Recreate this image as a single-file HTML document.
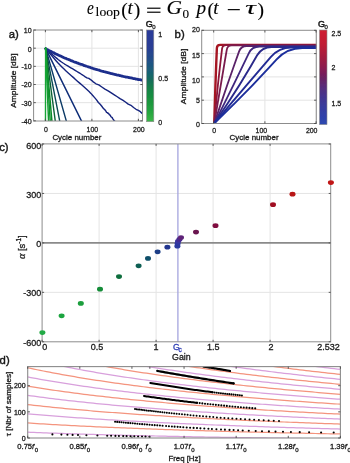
<!DOCTYPE html>
<html><head><meta charset="utf-8"><style>
html,body{margin:0;padding:0;background:#fff;width:350px;height:463px;overflow:hidden}
svg{display:block}
</style></head><body>
<svg width="350" height="463" viewBox="0 0 350 463">
<defs><filter id="soft" x="0" y="0" width="350" height="463" filterUnits="userSpaceOnUse"><feGaussianBlur stdDeviation="0.45"/></filter></defs>
<rect width="350" height="463" fill="#fff"/>
<g filter="url(#soft)">
<rect width="350" height="463" fill="#fff"/>
<text x="87.0" y="14.3" font-size="18.5" font-family="Liberation Serif, serif" font-style="italic" fill="#000" stroke="#000" stroke-width="0.12" textLength="6.8" lengthAdjust="spacingAndGlyphs">e</text>
<text x="95.6" y="16.0" font-size="12.6" font-family="Liberation Serif, serif"  fill="#000" stroke="#000" stroke-width="0.12" textLength="24.3" lengthAdjust="spacingAndGlyphs">loop</text>
<text x="121.2" y="15.6" font-size="19.5" font-family="Liberation Serif, serif"  fill="#000" stroke="#000" stroke-width="0.12">(</text>
<text x="127.6" y="14.3" font-size="18.5" font-family="Liberation Serif, serif" font-style="italic" fill="#000" stroke="#000" stroke-width="0.12" textLength="5.3" lengthAdjust="spacingAndGlyphs">t</text>
<text x="133.8" y="15.6" font-size="19.5" font-family="Liberation Serif, serif"  fill="#000" stroke="#000" stroke-width="0.12">)</text>
<rect x="147.1" y="7.6" width="13.4" height="1.25" fill="#111"/><rect x="147.1" y="11.6" width="13.4" height="1.25" fill="#111"/>
<text x="166.4" y="14.3" font-size="18.5" font-family="Liberation Serif, serif" font-style="italic" fill="#000" stroke="#000" stroke-width="0.12" textLength="15.5" lengthAdjust="spacingAndGlyphs">G</text>
<text x="182.6" y="17.6" font-size="13.0" font-family="Liberation Serif, serif"  fill="#000" stroke="#000" stroke-width="0.12" textLength="6.6" lengthAdjust="spacingAndGlyphs">0</text>
<text x="196.4" y="14.3" font-size="18.5" font-family="Liberation Serif, serif" font-style="italic" fill="#000" stroke="#000" stroke-width="0.12" textLength="9.6" lengthAdjust="spacingAndGlyphs">p</text>
<text x="207.4" y="15.6" font-size="19.5" font-family="Liberation Serif, serif"  fill="#000" stroke="#000" stroke-width="0.12">(</text>
<text x="213.3" y="14.3" font-size="18.5" font-family="Liberation Serif, serif" font-style="italic" fill="#000" stroke="#000" stroke-width="0.12" textLength="5.3" lengthAdjust="spacingAndGlyphs">t</text>
<rect x="227.8" y="9.0" width="12.0" height="1.25" fill="#111"/>
<text x="245.2" y="14.3" font-size="18.5" font-family="Liberation Serif, serif" font-style="italic" fill="#000" stroke="#000" stroke-width="0.12" textLength="10.6" lengthAdjust="spacingAndGlyphs">τ</text>
<text x="257.6" y="15.6" font-size="19.5" font-family="Liberation Serif, serif"  fill="#000" stroke="#000" stroke-width="0.12">)</text>
<rect x="33.6" y="30.0" width="108.9" height="91.0" fill="#fff"/>
<line x1="45.40" y1="30.00" x2="45.40" y2="121.00" stroke="#e4e4e4" stroke-width="1" />
<line x1="91.90" y1="30.00" x2="91.90" y2="121.00" stroke="#e4e4e4" stroke-width="1" />
<line x1="138.40" y1="30.00" x2="138.40" y2="121.00" stroke="#e4e4e4" stroke-width="1" />
<line x1="33.60" y1="48.20" x2="142.50" y2="48.20" stroke="#e4e4e4" stroke-width="1" />
<line x1="33.60" y1="66.35" x2="142.50" y2="66.35" stroke="#e4e4e4" stroke-width="1" />
<line x1="33.60" y1="84.50" x2="142.50" y2="84.50" stroke="#e4e4e4" stroke-width="1" />
<line x1="33.60" y1="102.65" x2="142.50" y2="102.65" stroke="#e4e4e4" stroke-width="1" />
<g clip-path="url(#clipa)">
<path d="M45.60,48.30 L82.00,122.00" fill="none" stroke="#112d78" stroke-width="1.5" stroke-linejoin="round" stroke-linecap="round" />
<path d="M45.60,48.30 L46.70,49.61 L48.16,51.38 L49.90,53.48 L51.83,55.81 L53.89,58.24 L55.99,60.68 L58.05,63.00 L60.00,65.10 L61.89,67.01 L63.80,68.86 L65.74,70.66 L67.69,72.42 L69.65,74.17 L71.61,75.90 L73.56,77.64 L75.50,79.40 L77.44,81.15 L79.40,82.87 L81.36,84.57 L83.31,86.28 L85.25,87.99 L87.17,89.75 L89.06,91.54 L90.90,93.40 L92.75,95.50 L94.64,97.62 L96.53,99.93 L98.38,102.52 L100.15,104.28 L101.80,106.25 L103.30,108.38 L104.60,109.44 L105.68,110.71 L106.55,112.32 L107.25,112.58 L107.85,113.18 L108.38,113.14 L108.88,114.02 L109.41,114.72 L110.00,114.82 L110.67,116.20 L111.38,117.09 L112.09,117.41 L112.79,118.88 L113.44,119.57 L114.03,120.55 L114.53,120.87 L114.90,121.50" fill="none" stroke="#14247e" stroke-width="1.4" stroke-linejoin="round" stroke-linecap="round" />
<path d="M45.60,48.30 L46.45,49.06 L47.54,50.06 L48.83,51.25 L50.27,52.57 L51.83,53.99 L53.47,55.46 L55.15,56.94 L56.82,58.36 L58.45,59.70 L60.00,60.90 L61.51,61.99 L63.03,63.03 L64.57,64.03 L66.13,64.99 L67.69,65.94 L69.25,66.87 L70.82,67.79 L72.39,68.71 L73.95,69.65 L75.50,70.60 L76.98,71.52 L78.37,72.39 L79.70,73.21 L81.01,74.02 L82.35,74.86 L83.76,75.73 L85.28,76.86 L86.94,77.93 L88.81,78.45 L90.90,79.80 L93.28,81.86 L95.93,83.78 L98.80,84.94 L101.82,87.03 L104.94,89.12 L108.11,90.87 L111.25,92.90 L114.32,94.80 L117.26,96.72 L120.00,98.69 L122.68,100.15 L125.43,102.01 L128.20,104.17 L130.93,105.29 L133.57,107.51 L136.06,109.30 L138.35,110.44 L140.39,111.70 L142.13,113.37 L143.50,114.00" fill="none" stroke="#14247e" stroke-width="1.4" stroke-linejoin="round" stroke-linecap="round" />
<path d="M45.60,48.64 L46.57,49.23 L47.54,49.70 L48.52,50.26 L49.49,50.77 L50.46,51.13 L51.43,51.61 L52.40,52.29 L53.37,52.63 L54.35,53.10 L55.32,53.75 L56.29,54.09 L57.26,54.63 L58.23,55.00 L59.21,55.49 L60.18,55.82 L61.15,56.37 L62.12,56.86 L63.09,57.21 L64.07,57.69 L65.04,58.09 L66.01,58.36 L66.98,58.94 L67.95,59.30 L68.92,59.64 L69.90,59.97 L70.87,60.56 L71.84,60.86 L72.81,61.30 L73.78,61.72 L74.76,62.06 L75.73,62.48 L76.70,62.72 L77.67,63.18 L78.64,63.46 L79.61,63.93 L80.59,64.27 L81.56,64.43 L82.53,64.79 L83.50,65.15 L84.47,65.66 L85.45,65.87 L86.42,66.24 L87.39,66.49 L88.36,66.86 L89.33,67.16 L90.31,67.46 L91.28,67.83 L92.25,68.14 L93.22,68.52 L94.19,68.77 L95.16,69.13 L96.14,69.41 L97.11,69.73 L98.08,69.94 L99.05,70.11 L100.02,70.56 L101.00,70.86 L101.97,71.12 L102.94,71.32 L103.91,71.62 L104.88,71.77 L105.85,72.18 L106.83,72.38 L107.80,72.57 L108.77,72.78 L109.74,73.22 L110.71,73.50 L111.69,73.53 L112.66,73.95 L113.63,74.10 L114.60,74.28 L115.57,74.55 L116.55,74.90 L117.52,75.15 L118.49,75.18 L119.46,75.55 L120.43,75.64 L121.40,76.02 L122.38,76.15 L123.35,76.49 L124.32,76.73 L125.29,76.83 L126.26,77.16 L127.24,77.20 L128.21,77.35 L129.18,77.68 L130.15,77.75 L131.12,77.98 L132.09,78.23 L133.07,78.48 L134.04,78.56 L135.01,78.72 L135.98,79.11 L136.95,79.16 L137.93,79.50 L138.90,79.67 L139.87,79.72 L140.84,79.92 L141.81,80.11 L142.78,80.32" fill="none" stroke="#1e2d8c" stroke-width="2.8" stroke-linejoin="round" stroke-linecap="round" />
<path d="M45.60,48.30 L66.60,122.00" fill="none" stroke="#0b3a66" stroke-width="1.4" stroke-linejoin="round" stroke-linecap="round" />
<path d="M45.60,48.30 L59.90,122.00" fill="none" stroke="#0a4c52" stroke-width="1.4" stroke-linejoin="round" stroke-linecap="round" />
<path d="M45.60,48.30 L55.40,122.00" fill="none" stroke="#0b6034" stroke-width="1.4" stroke-linejoin="round" stroke-linecap="round" />
<path d="M45.60,48.30 L52.00,122.00" fill="none" stroke="#0e8a2b" stroke-width="1.5" stroke-linejoin="round" stroke-linecap="round" />
<path d="M45.60,48.30 L50.30,122.00" fill="none" stroke="#10932d" stroke-width="1.5" stroke-linejoin="round" stroke-linecap="round" />
<path d="M45.60,48.30 L48.60,122.00" fill="none" stroke="#139c31" stroke-width="1.5" stroke-linejoin="round" stroke-linecap="round" />
<path d="M45.60,48.30 L45.50,122.00" fill="none" stroke="#16a636" stroke-width="1.4" stroke-linejoin="round" stroke-linecap="round" />
</g>
<defs><clipPath id="clipa"><rect x="33.6" y="30.0" width="108.9" height="91.0"/></clipPath><clipPath id="clipb"><rect x="201.7" y="30.3" width="114.6" height="93.2"/></clipPath><clipPath id="clipd"><rect x="27.7" y="366.6" width="312.7" height="71.4"/></clipPath></defs>
<rect x="33.6" y="30.0" width="108.9" height="91.0" fill="none" stroke="#8c8c8c" stroke-width="1"/>
<line x1="45.40" y1="121.00" x2="45.40" y2="118.80" stroke="#4a4a4a" stroke-width="0.9" />
<line x1="45.40" y1="30.00" x2="45.40" y2="32.20" stroke="#4a4a4a" stroke-width="0.9" />
<line x1="91.90" y1="121.00" x2="91.90" y2="118.80" stroke="#4a4a4a" stroke-width="0.9" />
<line x1="91.90" y1="30.00" x2="91.90" y2="32.20" stroke="#4a4a4a" stroke-width="0.9" />
<line x1="138.40" y1="121.00" x2="138.40" y2="118.80" stroke="#4a4a4a" stroke-width="0.9" />
<line x1="138.40" y1="30.00" x2="138.40" y2="32.20" stroke="#4a4a4a" stroke-width="0.9" />
<line x1="33.60" y1="30.05" x2="35.80" y2="30.05" stroke="#4a4a4a" stroke-width="0.9" />
<line x1="142.50" y1="30.05" x2="140.30" y2="30.05" stroke="#4a4a4a" stroke-width="0.9" />
<line x1="33.60" y1="48.20" x2="35.80" y2="48.20" stroke="#4a4a4a" stroke-width="0.9" />
<line x1="142.50" y1="48.20" x2="140.30" y2="48.20" stroke="#4a4a4a" stroke-width="0.9" />
<line x1="33.60" y1="66.35" x2="35.80" y2="66.35" stroke="#4a4a4a" stroke-width="0.9" />
<line x1="142.50" y1="66.35" x2="140.30" y2="66.35" stroke="#4a4a4a" stroke-width="0.9" />
<line x1="33.60" y1="84.50" x2="35.80" y2="84.50" stroke="#4a4a4a" stroke-width="0.9" />
<line x1="142.50" y1="84.50" x2="140.30" y2="84.50" stroke="#4a4a4a" stroke-width="0.9" />
<line x1="33.60" y1="102.65" x2="35.80" y2="102.65" stroke="#4a4a4a" stroke-width="0.9" />
<line x1="142.50" y1="102.65" x2="140.30" y2="102.65" stroke="#4a4a4a" stroke-width="0.9" />
<line x1="33.60" y1="120.80" x2="35.80" y2="120.80" stroke="#4a4a4a" stroke-width="0.9" />
<line x1="142.50" y1="120.80" x2="140.30" y2="120.80" stroke="#4a4a4a" stroke-width="0.9" />
<text x="31.60" y="32.55" font-size="8.0" text-anchor="end" fill="#1a1a1a" stroke="#1a1a1a" stroke-width="0.3" font-family="Liberation Sans, sans-serif" textLength="7.83" lengthAdjust="spacingAndGlyphs" >10</text>
<text x="31.60" y="51.80" font-size="8.0" text-anchor="end" fill="#1a1a1a" stroke="#1a1a1a" stroke-width="0.3" font-family="Liberation Sans, sans-serif" textLength="3.92" lengthAdjust="spacingAndGlyphs" >0</text>
<text x="31.60" y="69.15" font-size="8.0" text-anchor="end" fill="#1a1a1a" stroke="#1a1a1a" stroke-width="0.3" font-family="Liberation Sans, sans-serif" textLength="10.18" lengthAdjust="spacingAndGlyphs" >-10</text>
<text x="31.60" y="87.30" font-size="8.0" text-anchor="end" fill="#1a1a1a" stroke="#1a1a1a" stroke-width="0.3" font-family="Liberation Sans, sans-serif" textLength="10.18" lengthAdjust="spacingAndGlyphs" >-20</text>
<text x="31.60" y="105.65" font-size="8.0" text-anchor="end" fill="#1a1a1a" stroke="#1a1a1a" stroke-width="0.3" font-family="Liberation Sans, sans-serif" textLength="10.18" lengthAdjust="spacingAndGlyphs" >-30</text>
<text x="31.60" y="124.40" font-size="8.0" text-anchor="end" fill="#1a1a1a" stroke="#1a1a1a" stroke-width="0.3" font-family="Liberation Sans, sans-serif" textLength="10.18" lengthAdjust="spacingAndGlyphs" >-40</text>
<text x="45.90" y="132.30" font-size="8.0" text-anchor="middle" fill="#1a1a1a" stroke="#1a1a1a" stroke-width="0.3" font-family="Liberation Sans, sans-serif" textLength="3.87" lengthAdjust="spacingAndGlyphs" >0</text>
<text x="92.40" y="132.30" font-size="8.0" text-anchor="middle" fill="#1a1a1a" stroke="#1a1a1a" stroke-width="0.3" font-family="Liberation Sans, sans-serif" textLength="11.61" lengthAdjust="spacingAndGlyphs" >100</text>
<text x="138.90" y="132.30" font-size="8.0" text-anchor="middle" fill="#1a1a1a" stroke="#1a1a1a" stroke-width="0.3" font-family="Liberation Sans, sans-serif" textLength="11.61" lengthAdjust="spacingAndGlyphs" >200</text>
<text x="52.40" y="140.20" font-size="7.7" text-anchor="start" fill="#1a1a1a" stroke="#1a1a1a" stroke-width="0.3" font-family="Liberation Sans, sans-serif" textLength="49" lengthAdjust="spacingAndGlyphs" >Cycle number</text>
<text transform="translate(16.4,80.6) rotate(-90)" font-size="7.9" textLength="54.5" lengthAdjust="spacingAndGlyphs" text-anchor="middle" fill="#1a1a1a" stroke="#1a1a1a" stroke-width="0.3" font-family="Liberation Sans, sans-serif">Amplitude [dB]</text>
<text x="8.70" y="38.10" font-size="11.3" text-anchor="start" fill="#1a1a1a" stroke="#1a1a1a" stroke-width="0.42" font-family="Liberation Sans, sans-serif" >a)</text>
<defs><linearGradient id="cba" x1="0" y1="0" x2="0" y2="1"><stop offset="0" stop-color="#2c3a9a"/><stop offset="0.2" stop-color="#293f94"/><stop offset="0.35" stop-color="#205286"/><stop offset="0.45" stop-color="#1a6076"/><stop offset="0.55" stop-color="#146e5a"/><stop offset="0.65" stop-color="#138446"/><stop offset="0.78" stop-color="#1c963e"/><stop offset="0.9" stop-color="#26a640"/><stop offset="1" stop-color="#3cb648"/></linearGradient><linearGradient id="cbb" x1="0" y1="0" x2="0" y2="1"><stop offset="0" stop-color="#d02030"/><stop offset="0.15" stop-color="#c01c34"/><stop offset="0.3" stop-color="#a01c40"/><stop offset="0.4" stop-color="#8a1c50"/><stop offset="0.5" stop-color="#6c2060"/><stop offset="0.6" stop-color="#582c7a"/><stop offset="0.7" stop-color="#44358e"/><stop offset="0.8" stop-color="#3a3c9c"/><stop offset="0.9" stop-color="#3040a8"/><stop offset="1" stop-color="#2c48b0"/></linearGradient></defs>
<rect x="146.6" y="30" width="7.2" height="91.7" fill="url(#cba)" stroke="#8c8c8c" stroke-width="0.6"/>
<text x="158.30" y="37.00" font-size="8.0" text-anchor="start" fill="#1a1a1a" stroke="#1a1a1a" stroke-width="0.3" font-family="Liberation Sans, sans-serif" textLength="3.92" lengthAdjust="spacingAndGlyphs" >1</text>
<text x="158.30" y="80.80" font-size="8.0" text-anchor="start" fill="#1a1a1a" stroke="#1a1a1a" stroke-width="0.3" font-family="Liberation Sans, sans-serif" textLength="9.79" lengthAdjust="spacingAndGlyphs" >0.5</text>
<text x="158.30" y="124.60" font-size="8.0" text-anchor="start" fill="#1a1a1a" stroke="#1a1a1a" stroke-width="0.3" font-family="Liberation Sans, sans-serif" textLength="3.92" lengthAdjust="spacingAndGlyphs" >0</text>
<text x="145.80" y="27.20" font-size="9.0" text-anchor="start" fill="#1a1a1a" stroke="#1a1a1a" stroke-width="0.5" font-family="Liberation Sans, sans-serif" >G</text>
<text x="152.30" y="28.90" font-size="6.0" text-anchor="start" fill="#1a1a1a" stroke="#1a1a1a" stroke-width="0.3" font-family="Liberation Sans, sans-serif" >0</text>
<rect x="201.7" y="30.3" width="114.60000000000002" height="93.2" fill="#fff"/>
<line x1="213.70" y1="30.30" x2="213.70" y2="123.50" stroke="#e4e4e4" stroke-width="1" />
<line x1="264.90" y1="30.30" x2="264.90" y2="123.50" stroke="#e4e4e4" stroke-width="1" />
<line x1="316.10" y1="30.30" x2="316.10" y2="123.50" stroke="#e4e4e4" stroke-width="1" />
<line x1="201.70" y1="100.20" x2="316.30" y2="100.20" stroke="#e4e4e4" stroke-width="1" />
<line x1="201.70" y1="76.90" x2="316.30" y2="76.90" stroke="#e4e4e4" stroke-width="1" />
<line x1="201.70" y1="53.60" x2="316.30" y2="53.60" stroke="#e4e4e4" stroke-width="1" />
<g clip-path="url(#clipb)">
<path d="M214.30,123.30 L214.87,103.31 Q215.42,84.10 216.19,64.90 L216.87,48.07 Q217.00,44.90 220.18,44.90 L380.00,44.90" fill="none" stroke="#a51424" stroke-width="2.4" stroke-linejoin="round"/>
<path d="M214.30,123.30 L216.11,103.36 Q217.85,84.20 220.12,65.10 L222.08,48.67 Q222.50,45.10 226.10,45.10 L380.00,45.10" fill="none" stroke="#8e183a" stroke-width="1.8" stroke-linejoin="round"/>
<path d="M214.30,123.30 L217.67,103.44 Q220.90,84.35 224.13,65.26 L226.80,49.53 Q227.50,45.40 231.69,45.40 L380.00,45.40" fill="none" stroke="#7a1c4e" stroke-width="1.8" stroke-linejoin="round"/>
<path d="M214.30,123.30 L220.94,103.59 Q227.31,84.65 233.98,65.81 L239.10,51.37 Q241.00,46.00 246.70,46.00 L380.00,46.00" fill="none" stroke="#5a2268" stroke-width="1.8" stroke-linejoin="round"/>
<path d="M214.30,123.30 L224.23,103.54 Q233.60,84.90 242.61,66.08 L248.75,53.29 Q252.00,46.50 259.53,46.50 L380.00,46.50" fill="none" stroke="#40287e" stroke-width="1.8" stroke-linejoin="round"/>
<path d="M214.30,123.30 L227.73,103.16 Q239.73,85.15 250.64,66.46 L257.13,55.35 Q262.00,47.00 271.67,47.00 L380.00,47.00" fill="none" stroke="#2c2a8a" stroke-width="1.9" stroke-linejoin="round"/>
<path d="M214.30,123.30 L230.68,103.97 Q246.42,85.40 262.29,66.94 L270.92,56.90 Q279.00,47.50 291.39,47.50 L380.00,47.50" fill="none" stroke="#222c94" stroke-width="1.9" stroke-linejoin="round"/>
<path d="M214.30,123.30 L234.90,103.11 Q252.72,85.65 269.52,67.20 L276.65,59.36 Q287.00,48.00 302.37,48.00 L380.00,48.00" fill="none" stroke="#1c2e9c" stroke-width="1.9" stroke-linejoin="round"/>
</g>
<rect x="201.7" y="30.3" width="114.60000000000002" height="93.2" fill="none" stroke="#8c8c8c" stroke-width="1"/>
<line x1="213.70" y1="123.50" x2="213.70" y2="121.30" stroke="#4a4a4a" stroke-width="0.9" />
<line x1="213.70" y1="30.30" x2="213.70" y2="32.50" stroke="#4a4a4a" stroke-width="0.9" />
<line x1="264.90" y1="123.50" x2="264.90" y2="121.30" stroke="#4a4a4a" stroke-width="0.9" />
<line x1="264.90" y1="30.30" x2="264.90" y2="32.50" stroke="#4a4a4a" stroke-width="0.9" />
<line x1="316.10" y1="123.50" x2="316.10" y2="121.30" stroke="#4a4a4a" stroke-width="0.9" />
<line x1="316.10" y1="30.30" x2="316.10" y2="32.50" stroke="#4a4a4a" stroke-width="0.9" />
<line x1="201.70" y1="123.50" x2="203.90" y2="123.50" stroke="#4a4a4a" stroke-width="0.9" />
<line x1="316.30" y1="123.50" x2="314.10" y2="123.50" stroke="#4a4a4a" stroke-width="0.9" />
<line x1="201.70" y1="100.20" x2="203.90" y2="100.20" stroke="#4a4a4a" stroke-width="0.9" />
<line x1="316.30" y1="100.20" x2="314.10" y2="100.20" stroke="#4a4a4a" stroke-width="0.9" />
<line x1="201.70" y1="76.90" x2="203.90" y2="76.90" stroke="#4a4a4a" stroke-width="0.9" />
<line x1="316.30" y1="76.90" x2="314.10" y2="76.90" stroke="#4a4a4a" stroke-width="0.9" />
<line x1="201.70" y1="53.60" x2="203.90" y2="53.60" stroke="#4a4a4a" stroke-width="0.9" />
<line x1="316.30" y1="53.60" x2="314.10" y2="53.60" stroke="#4a4a4a" stroke-width="0.9" />
<line x1="201.70" y1="30.30" x2="203.90" y2="30.30" stroke="#4a4a4a" stroke-width="0.9" />
<line x1="316.30" y1="30.30" x2="314.10" y2="30.30" stroke="#4a4a4a" stroke-width="0.9" />
<text x="199.90" y="126.80" font-size="8.0" text-anchor="end" fill="#1a1a1a" stroke="#1a1a1a" stroke-width="0.3" font-family="Liberation Sans, sans-serif" textLength="3.92" lengthAdjust="spacingAndGlyphs" >0</text>
<text x="199.90" y="103.30" font-size="8.0" text-anchor="end" fill="#1a1a1a" stroke="#1a1a1a" stroke-width="0.3" font-family="Liberation Sans, sans-serif" textLength="3.92" lengthAdjust="spacingAndGlyphs" >5</text>
<text x="199.90" y="82.90" font-size="8.0" text-anchor="end" fill="#1a1a1a" stroke="#1a1a1a" stroke-width="0.3" font-family="Liberation Sans, sans-serif" textLength="7.83" lengthAdjust="spacingAndGlyphs" >10</text>
<text x="199.90" y="57.90" font-size="8.0" text-anchor="end" fill="#1a1a1a" stroke="#1a1a1a" stroke-width="0.3" font-family="Liberation Sans, sans-serif" textLength="7.83" lengthAdjust="spacingAndGlyphs" >15</text>
<text x="199.90" y="31.60" font-size="8.0" text-anchor="end" fill="#1a1a1a" stroke="#1a1a1a" stroke-width="0.3" font-family="Liberation Sans, sans-serif" textLength="7.83" lengthAdjust="spacingAndGlyphs" >20</text>
<text x="214.10" y="132.50" font-size="8.0" text-anchor="middle" fill="#1a1a1a" stroke="#1a1a1a" stroke-width="0.3" font-family="Liberation Sans, sans-serif" textLength="3.87" lengthAdjust="spacingAndGlyphs" >0</text>
<text x="261.40" y="132.50" font-size="8.0" text-anchor="middle" fill="#1a1a1a" stroke="#1a1a1a" stroke-width="0.3" font-family="Liberation Sans, sans-serif" textLength="11.61" lengthAdjust="spacingAndGlyphs" >100</text>
<text x="311.70" y="132.50" font-size="8.0" text-anchor="middle" fill="#1a1a1a" stroke="#1a1a1a" stroke-width="0.3" font-family="Liberation Sans, sans-serif" textLength="11.61" lengthAdjust="spacingAndGlyphs" >200</text>
<text x="229.60" y="140.20" font-size="7.7" text-anchor="start" fill="#1a1a1a" stroke="#1a1a1a" stroke-width="0.3" font-family="Liberation Sans, sans-serif" textLength="49" lengthAdjust="spacingAndGlyphs" >Cycle number</text>
<text transform="translate(186.3,76.4) rotate(-90)" font-size="7.9" textLength="55.5" lengthAdjust="spacingAndGlyphs" text-anchor="middle" fill="#1a1a1a" stroke="#1a1a1a" stroke-width="0.3" font-family="Liberation Sans, sans-serif">Amplitude [dB]</text>
<text x="174.60" y="38.10" font-size="11.3" text-anchor="start" fill="#1a1a1a" stroke="#1a1a1a" stroke-width="0.42" font-family="Liberation Sans, sans-serif" >b)</text>
<rect x="319.5" y="30" width="7.5" height="94.6" fill="url(#cbb)" stroke="#8c8c8c" stroke-width="0.6"/>
<text x="331.50" y="35.90" font-size="8.0" text-anchor="start" fill="#1a1a1a" stroke="#1a1a1a" stroke-width="0.3" font-family="Liberation Sans, sans-serif" textLength="9.79" lengthAdjust="spacingAndGlyphs" >2.5</text>
<text x="331.50" y="70.40" font-size="8.0" text-anchor="start" fill="#1a1a1a" stroke="#1a1a1a" stroke-width="0.3" font-family="Liberation Sans, sans-serif" textLength="3.92" lengthAdjust="spacingAndGlyphs" >2</text>
<text x="331.50" y="106.10" font-size="8.0" text-anchor="start" fill="#1a1a1a" stroke="#1a1a1a" stroke-width="0.3" font-family="Liberation Sans, sans-serif" textLength="9.79" lengthAdjust="spacingAndGlyphs" >1.5</text>
<text x="317.90" y="27.40" font-size="9.0" text-anchor="start" fill="#1a1a1a" stroke="#1a1a1a" stroke-width="0.5" font-family="Liberation Sans, sans-serif" >G</text>
<text x="324.60" y="29.20" font-size="6.0" text-anchor="start" fill="#1a1a1a" stroke="#1a1a1a" stroke-width="0.3" font-family="Liberation Sans, sans-serif" >0</text>
<line x1="99.10" y1="143.90" x2="99.10" y2="341.80" stroke="#e4e4e4" stroke-width="1" />
<line x1="156.10" y1="143.90" x2="156.10" y2="341.80" stroke="#e4e4e4" stroke-width="1" />
<line x1="213.10" y1="143.90" x2="213.10" y2="341.80" stroke="#e4e4e4" stroke-width="1" />
<line x1="270.10" y1="143.90" x2="270.10" y2="341.80" stroke="#e4e4e4" stroke-width="1" />
<line x1="42.10" y1="193.45" x2="330.70" y2="193.45" stroke="#e4e4e4" stroke-width="1" />
<line x1="42.10" y1="292.35" x2="330.70" y2="292.35" stroke="#e4e4e4" stroke-width="1" />
<line x1="42.10" y1="242.90" x2="330.70" y2="242.90" stroke="#8a8a8a" stroke-width="1.6" />
<line x1="177.90" y1="143.90" x2="177.90" y2="341.80" stroke="#a4a4de" stroke-width="1.3" />
<rect x="42.1" y="143.9" width="288.59999999999997" height="197.9" fill="none" stroke="#8c8c8c" stroke-width="1"/>
<line x1="42.10" y1="341.80" x2="42.10" y2="339.80" stroke="#4a4a4a" stroke-width="0.9" />
<line x1="42.10" y1="143.90" x2="42.10" y2="145.90" stroke="#4a4a4a" stroke-width="0.9" />
<line x1="99.10" y1="341.80" x2="99.10" y2="339.80" stroke="#4a4a4a" stroke-width="0.9" />
<line x1="99.10" y1="143.90" x2="99.10" y2="145.90" stroke="#4a4a4a" stroke-width="0.9" />
<line x1="156.10" y1="341.80" x2="156.10" y2="339.80" stroke="#4a4a4a" stroke-width="0.9" />
<line x1="156.10" y1="143.90" x2="156.10" y2="145.90" stroke="#4a4a4a" stroke-width="0.9" />
<line x1="213.10" y1="341.80" x2="213.10" y2="339.80" stroke="#4a4a4a" stroke-width="0.9" />
<line x1="213.10" y1="143.90" x2="213.10" y2="145.90" stroke="#4a4a4a" stroke-width="0.9" />
<line x1="270.10" y1="341.80" x2="270.10" y2="339.80" stroke="#4a4a4a" stroke-width="0.9" />
<line x1="270.10" y1="143.90" x2="270.10" y2="145.90" stroke="#4a4a4a" stroke-width="0.9" />
<line x1="42.10" y1="144.00" x2="44.10" y2="144.00" stroke="#4a4a4a" stroke-width="0.9" />
<line x1="330.70" y1="144.00" x2="328.70" y2="144.00" stroke="#4a4a4a" stroke-width="0.9" />
<line x1="42.10" y1="193.45" x2="44.10" y2="193.45" stroke="#4a4a4a" stroke-width="0.9" />
<line x1="330.70" y1="193.45" x2="328.70" y2="193.45" stroke="#4a4a4a" stroke-width="0.9" />
<line x1="42.10" y1="242.90" x2="44.10" y2="242.90" stroke="#4a4a4a" stroke-width="0.9" />
<line x1="330.70" y1="242.90" x2="328.70" y2="242.90" stroke="#4a4a4a" stroke-width="0.9" />
<line x1="42.10" y1="292.35" x2="44.10" y2="292.35" stroke="#4a4a4a" stroke-width="0.9" />
<line x1="330.70" y1="292.35" x2="328.70" y2="292.35" stroke="#4a4a4a" stroke-width="0.9" />
<line x1="42.10" y1="341.80" x2="44.10" y2="341.80" stroke="#4a4a4a" stroke-width="0.9" />
<line x1="330.70" y1="341.80" x2="328.70" y2="341.80" stroke="#4a4a4a" stroke-width="0.9" />
<ellipse cx="42.4" cy="332.6" rx="3.0" ry="2.4" fill="#22aa44"/>
<ellipse cx="61.6" cy="315.8" rx="3.0" ry="2.4" fill="#1ea540"/>
<ellipse cx="80.8" cy="303.4" rx="3.0" ry="2.4" fill="#1a9e3c"/>
<ellipse cx="100.0" cy="289.2" rx="3.0" ry="2.4" fill="#128c38"/>
<ellipse cx="119.0" cy="276.6" rx="3.0" ry="2.4" fill="#0f6e3c"/>
<ellipse cx="138.6" cy="265.8" rx="3.0" ry="2.4" fill="#0f5e52"/>
<ellipse cx="148.0" cy="258.4" rx="3.0" ry="2.4" fill="#10506a"/>
<ellipse cx="157.6" cy="251.8" rx="3.0" ry="2.4" fill="#1a3d86"/>
<ellipse cx="167.4" cy="247.2" rx="3.0" ry="2.4" fill="#22368f"/>
<ellipse cx="177.4" cy="246.2" rx="3.0" ry="2.4" fill="#2a3aa0"/>
<ellipse cx="177.6" cy="243.6" rx="3.0" ry="2.4" fill="#2e38a0"/>
<ellipse cx="178.0" cy="241.3" rx="3.0" ry="2.4" fill="#3a34a0"/>
<ellipse cx="179.4" cy="239.4" rx="3.0" ry="2.4" fill="#4a2c8e"/>
<ellipse cx="181.0" cy="237.6" rx="3.0" ry="2.4" fill="#5e2478"/>
<ellipse cx="196.0" cy="232.1" rx="3.0" ry="2.4" fill="#6a1450"/>
<ellipse cx="215.5" cy="225.7" rx="3.0" ry="2.4" fill="#801040"/>
<ellipse cx="273.0" cy="204.7" rx="3.0" ry="2.4" fill="#a01020"/>
<ellipse cx="292.5" cy="194.2" rx="3.0" ry="2.4" fill="#b81414"/>
<ellipse cx="330.9" cy="182.6" rx="3.0" ry="2.4" fill="#c01212"/>
<text x="41.20" y="148.60" font-size="9.0" text-anchor="end" fill="#1a1a1a" stroke="#1a1a1a" stroke-width="0.3" font-family="Liberation Sans, sans-serif" >600</text>
<text x="41.20" y="197.80" font-size="9.0" text-anchor="end" fill="#1a1a1a" stroke="#1a1a1a" stroke-width="0.3" font-family="Liberation Sans, sans-serif" >300</text>
<text x="41.20" y="246.60" font-size="9.0" text-anchor="end" fill="#1a1a1a" stroke="#1a1a1a" stroke-width="0.3" font-family="Liberation Sans, sans-serif" >0</text>
<text x="41.20" y="296.30" font-size="9.0" text-anchor="end" fill="#1a1a1a" stroke="#1a1a1a" stroke-width="0.3" font-family="Liberation Sans, sans-serif" >-300</text>
<text x="41.20" y="345.60" font-size="9.0" text-anchor="end" fill="#1a1a1a" stroke="#1a1a1a" stroke-width="0.3" font-family="Liberation Sans, sans-serif" >-600</text>
<text x="44.80" y="350.40" font-size="9.0" text-anchor="middle" fill="#1a1a1a" stroke="#1a1a1a" stroke-width="0.3" font-family="Liberation Sans, sans-serif" >0</text>
<text x="97.10" y="350.40" font-size="9.0" text-anchor="middle" fill="#1a1a1a" stroke="#1a1a1a" stroke-width="0.3" font-family="Liberation Sans, sans-serif" >0.5</text>
<text x="156.10" y="350.40" font-size="9.0" text-anchor="middle" fill="#1a1a1a" stroke="#1a1a1a" stroke-width="0.3" font-family="Liberation Sans, sans-serif" >1</text>
<text x="213.30" y="350.40" font-size="9.0" text-anchor="middle" fill="#1a1a1a" stroke="#1a1a1a" stroke-width="0.3" font-family="Liberation Sans, sans-serif" >1.5</text>
<text x="271.00" y="350.40" font-size="9.0" text-anchor="middle" fill="#1a1a1a" stroke="#1a1a1a" stroke-width="0.3" font-family="Liberation Sans, sans-serif" >2</text>
<text x="328.40" y="350.40" font-size="9.0" text-anchor="middle" fill="#1a1a1a" stroke="#1a1a1a" stroke-width="0.3" font-family="Liberation Sans, sans-serif" >2.532</text>
<text x="172.90" y="350.00" font-size="8.6" text-anchor="start" fill="#2f3fb5" stroke="#2f3fb5" stroke-width="0.3" font-family="Liberation Sans, sans-serif" >G</text>
<text x="178.60" y="352.20" font-size="6.6" text-anchor="start" fill="#2f3fb5" stroke="#2f3fb5" stroke-width="0.3" font-family="Liberation Sans, sans-serif" >c</text>
<text x="172.10" y="360.40" font-size="8.8" text-anchor="start" fill="#1a1a1a" stroke="#1a1a1a" stroke-width="0.3" font-family="Liberation Sans, sans-serif" >Gain</text>
<text transform="translate(24.9,247.3) rotate(-90)" font-size="9.4" text-anchor="middle" fill="#1a1a1a" stroke="#1a1a1a" stroke-width="0.3" font-family="Liberation Sans, sans-serif"><tspan font-family="Liberation Serif, serif" font-style="italic" font-size="10.5">α</tspan> [s<tspan dy="-3.6" font-size="6.3">-1</tspan><tspan dy="3.6">]</tspan></text>
<text x="-0.80" y="151.00" font-size="11.3" text-anchor="start" fill="#1a1a1a" stroke="#1a1a1a" stroke-width="0.42" font-family="Liberation Sans, sans-serif" >c)</text>
<g clip-path="url(#clipd)">
<path d="M27.70,432.19 L30.83,432.32 L33.95,432.44 L37.08,432.56 L40.21,432.68 L43.34,432.80 L46.46,432.91 L49.59,433.02 L52.72,433.13 L55.84,433.24 L58.97,433.35 L62.10,433.46 L65.22,433.56 L68.35,433.66 L71.48,433.76 L74.61,433.86 L77.73,433.96 L80.86,434.06 L83.99,434.15 L87.11,434.25 L90.24,434.34 L93.37,434.43 L96.49,434.52 L99.62,434.61 L102.75,434.69 L105.88,434.78 L109.00,434.86 L112.13,434.95 L115.26,435.03 L118.38,435.11 L121.51,435.19 L124.64,435.27 L127.76,435.35 L130.89,435.42 L134.02,435.50 L137.14,435.57 L140.27,435.65 L143.40,435.72 L146.53,435.79 L149.65,435.86 L152.78,435.93 L155.91,436.00 L159.03,436.07 L162.16,436.14 L165.29,436.21 L168.41,436.27 L171.54,436.34 L174.67,436.40 L177.80,436.47 L180.92,436.53 L184.05,436.59 L187.18,436.65 L190.30,436.71 L193.43,436.77 L196.56,436.83 L199.69,436.89 L202.81,436.95 L205.94,437.00 L209.07,437.06 L212.19,437.12 L215.32,437.17 L218.45,437.23 L221.57,437.28 L224.70,437.33 L227.83,437.39 L230.95,437.44 L234.08,437.49 L237.21,437.54 L240.34,437.59 L243.46,437.64 L246.59,437.69 L249.72,437.74 L252.84,437.79 L255.97,437.84 L259.10,437.88 L262.23,437.93 L265.35,437.98 L268.48,438.02 L271.61,438.07 L274.73,438.11 L277.86,438.16 L280.99,438.20 L284.11,438.24 L287.24,438.29 L290.37,438.33 L293.50,438.37 L296.62,438.41 L299.75,438.46 L302.88,438.50 L306.00,438.54 L309.13,438.58 L312.26,438.62 L315.38,438.66 L318.51,438.70 L321.64,438.74 L324.76,438.77 L327.89,438.81 L331.02,438.85 L334.15,438.89 L337.27,438.92 L340.40,438.96" fill="none" stroke="#d8a0dc" stroke-width="1.25" stroke-linejoin="round" stroke-linecap="round" />
<path d="M27.70,422.99 L30.83,423.19 L33.95,423.39 L37.08,423.59 L40.21,423.78 L43.34,423.97 L46.46,424.15 L49.59,424.34 L52.72,424.52 L55.84,424.69 L58.97,424.87 L62.10,425.04 L65.22,425.21 L68.35,425.38 L71.48,425.54 L74.61,425.70 L77.73,425.86 L80.86,426.02 L83.99,426.17 L87.11,426.32 L90.24,426.47 L93.37,426.62 L96.49,426.77 L99.62,426.91 L102.75,427.05 L105.88,427.19 L109.00,427.33 L112.13,427.47 L115.26,427.60 L118.38,427.73 L121.51,427.86 L124.64,427.99 L127.76,428.12 L130.89,428.24 L134.02,428.36 L137.14,428.49 L140.27,428.61 L143.40,428.73 L146.53,428.84 L149.65,428.96 L152.78,429.07 L155.91,429.18 L159.03,429.30 L162.16,429.41 L165.29,429.51 L168.41,429.62 L171.54,429.73 L174.67,429.83 L177.80,429.94 L180.92,430.04 L184.05,430.14 L187.18,430.24 L190.30,430.34 L193.43,430.43 L196.56,430.53 L199.69,430.62 L202.81,430.72 L205.94,430.81 L209.07,430.90 L212.19,430.99 L215.32,431.08 L218.45,431.17 L221.57,431.26 L224.70,431.35 L227.83,431.43 L230.95,431.52 L234.08,431.60 L237.21,431.68 L240.34,431.77 L243.46,431.85 L246.59,431.93 L249.72,432.01 L252.84,432.09 L255.97,432.16 L259.10,432.24 L262.23,432.32 L265.35,432.39 L268.48,432.47 L271.61,432.54 L274.73,432.61 L277.86,432.69 L280.99,432.76 L284.11,432.83 L287.24,432.90 L290.37,432.97 L293.50,433.04 L296.62,433.11 L299.75,433.17 L302.88,433.24 L306.00,433.31 L309.13,433.37 L312.26,433.44 L315.38,433.50 L318.51,433.57 L321.64,433.63 L324.76,433.69 L327.89,433.75 L331.02,433.81 L334.15,433.87 L337.27,433.94 L340.40,433.99" fill="none" stroke="#f4947e" stroke-width="1.25" stroke-linejoin="round" stroke-linecap="round" />
<path d="M27.70,413.79 L30.83,414.07 L33.95,414.34 L37.08,414.61 L40.21,414.88 L43.34,415.14 L46.46,415.40 L49.59,415.65 L52.72,415.90 L55.84,416.15 L58.97,416.39 L62.10,416.63 L65.22,416.86 L68.35,417.09 L71.48,417.32 L74.61,417.54 L77.73,417.76 L80.86,417.98 L83.99,418.19 L87.11,418.40 L90.24,418.61 L93.37,418.82 L96.49,419.02 L99.62,419.22 L102.75,419.41 L105.88,419.61 L109.00,419.80 L112.13,419.98 L115.26,420.17 L118.38,420.35 L121.51,420.53 L124.64,420.71 L127.76,420.89 L130.89,421.06 L134.02,421.23 L137.14,421.40 L140.27,421.57 L143.40,421.73 L146.53,421.89 L149.65,422.05 L152.78,422.21 L155.91,422.37 L159.03,422.52 L162.16,422.67 L165.29,422.82 L168.41,422.97 L171.54,423.12 L174.67,423.26 L177.80,423.40 L180.92,423.55 L184.05,423.69 L187.18,423.82 L190.30,423.96 L193.43,424.09 L196.56,424.23 L199.69,424.36 L202.81,424.49 L205.94,424.62 L209.07,424.75 L212.19,424.87 L215.32,425.00 L218.45,425.12 L221.57,425.24 L224.70,425.36 L227.83,425.48 L230.95,425.60 L234.08,425.71 L237.21,425.83 L240.34,425.94 L243.46,426.05 L246.59,426.17 L249.72,426.28 L252.84,426.38 L255.97,426.49 L259.10,426.60 L262.23,426.70 L265.35,426.81 L268.48,426.91 L271.61,427.01 L274.73,427.12 L277.86,427.22 L280.99,427.32 L284.11,427.41 L287.24,427.51 L290.37,427.61 L293.50,427.70 L296.62,427.80 L299.75,427.89 L302.88,427.98 L306.00,428.08 L309.13,428.17 L312.26,428.26 L315.38,428.34 L318.51,428.43 L321.64,428.52 L324.76,428.61 L327.89,428.69 L331.02,428.78 L334.15,428.86 L337.27,428.95 L340.40,429.03" fill="none" stroke="#d8a0dc" stroke-width="1.25" stroke-linejoin="round" stroke-linecap="round" />
<path d="M27.70,404.58 L30.83,404.94 L33.95,405.29 L37.08,405.64 L40.21,405.98 L43.34,406.31 L46.46,406.64 L49.59,406.97 L52.72,407.28 L55.84,407.60 L58.97,407.91 L62.10,408.21 L65.22,408.51 L68.35,408.81 L71.48,409.10 L74.61,409.38 L77.73,409.66 L80.86,409.94 L83.99,410.21 L87.11,410.48 L90.24,410.75 L93.37,411.01 L96.49,411.27 L99.62,411.52 L102.75,411.77 L105.88,412.02 L109.00,412.26 L112.13,412.50 L115.26,412.74 L118.38,412.97 L121.51,413.20 L124.64,413.43 L127.76,413.66 L130.89,413.88 L134.02,414.10 L137.14,414.31 L140.27,414.52 L143.40,414.73 L146.53,414.94 L149.65,415.15 L152.78,415.35 L155.91,415.55 L159.03,415.74 L162.16,415.94 L165.29,416.13 L168.41,416.32 L171.54,416.51 L174.67,416.69 L177.80,416.87 L180.92,417.06 L184.05,417.23 L187.18,417.41 L190.30,417.58 L193.43,417.76 L196.56,417.93 L199.69,418.10 L202.81,418.26 L205.94,418.43 L209.07,418.59 L212.19,418.75 L215.32,418.91 L218.45,419.06 L221.57,419.22 L224.70,419.37 L227.83,419.53 L230.95,419.68 L234.08,419.82 L237.21,419.97 L240.34,420.12 L243.46,420.26 L246.59,420.40 L249.72,420.54 L252.84,420.68 L255.97,420.82 L259.10,420.96 L262.23,421.09 L265.35,421.23 L268.48,421.36 L271.61,421.49 L274.73,421.62 L277.86,421.75 L280.99,421.87 L284.11,422.00 L287.24,422.12 L290.37,422.25 L293.50,422.37 L296.62,422.49 L299.75,422.61 L302.88,422.73 L306.00,422.84 L309.13,422.96 L312.26,423.07 L315.38,423.19 L318.51,423.30 L321.64,423.41 L324.76,423.52 L327.89,423.63 L331.02,423.74 L334.15,423.85 L337.27,423.96 L340.40,424.06" fill="none" stroke="#f4947e" stroke-width="1.25" stroke-linejoin="round" stroke-linecap="round" />
<path d="M27.70,395.38 L30.83,395.81 L33.95,396.24 L37.08,396.66 L40.21,397.08 L43.34,397.48 L46.46,397.88 L49.59,398.28 L52.72,398.67 L55.84,399.05 L58.97,399.43 L62.10,399.80 L65.22,400.16 L68.35,400.52 L71.48,400.87 L74.61,401.22 L77.73,401.56 L80.86,401.90 L83.99,402.23 L87.11,402.56 L90.24,402.89 L93.37,403.20 L96.49,403.52 L99.62,403.83 L102.75,404.13 L105.88,404.43 L109.00,404.73 L112.13,405.02 L115.26,405.31 L118.38,405.59 L121.51,405.88 L124.64,406.15 L127.76,406.43 L130.89,406.69 L134.02,406.96 L137.14,407.22 L140.27,407.48 L143.40,407.74 L146.53,407.99 L149.65,408.24 L152.78,408.48 L155.91,408.73 L159.03,408.97 L162.16,409.20 L165.29,409.44 L168.41,409.67 L171.54,409.90 L174.67,410.12 L177.80,410.34 L180.92,410.56 L184.05,410.78 L187.18,411.00 L190.30,411.21 L193.43,411.42 L196.56,411.63 L199.69,411.83 L202.81,412.03 L205.94,412.23 L209.07,412.43 L212.19,412.63 L215.32,412.82 L218.45,413.01 L221.57,413.20 L224.70,413.39 L227.83,413.57 L230.95,413.75 L234.08,413.94 L237.21,414.11 L240.34,414.29 L243.46,414.47 L246.59,414.64 L249.72,414.81 L252.84,414.98 L255.97,415.15 L259.10,415.31 L262.23,415.48 L265.35,415.64 L268.48,415.80 L271.61,415.96 L274.73,416.12 L277.86,416.28 L280.99,416.43 L284.11,416.58 L287.24,416.73 L290.37,416.88 L293.50,417.03 L296.62,417.18 L299.75,417.33 L302.88,417.47 L306.00,417.61 L309.13,417.75 L312.26,417.89 L315.38,418.03 L318.51,418.17 L321.64,418.31 L324.76,418.44 L327.89,418.57 L331.02,418.71 L334.15,418.84 L337.27,418.97 L340.40,419.09" fill="none" stroke="#d8a0dc" stroke-width="1.25" stroke-linejoin="round" stroke-linecap="round" />
<path d="M27.70,386.17 L30.83,386.68 L33.95,387.19 L37.08,387.69 L40.21,388.17 L43.34,388.66 L46.46,389.13 L49.59,389.59 L52.72,390.05 L55.84,390.50 L58.97,390.94 L62.10,391.38 L65.22,391.81 L68.35,392.23 L71.48,392.65 L74.61,393.06 L77.73,393.47 L80.86,393.86 L83.99,394.26 L87.11,394.64 L90.24,395.02 L93.37,395.40 L96.49,395.77 L99.62,396.13 L102.75,396.49 L105.88,396.85 L109.00,397.20 L112.13,397.54 L115.26,397.88 L118.38,398.22 L121.51,398.55 L124.64,398.87 L127.76,399.19 L130.89,399.51 L134.02,399.83 L137.14,400.14 L140.27,400.44 L143.40,400.74 L146.53,401.04 L149.65,401.33 L152.78,401.62 L155.91,401.91 L159.03,402.19 L162.16,402.47 L165.29,402.75 L168.41,403.02 L171.54,403.29 L174.67,403.55 L177.80,403.81 L180.92,404.07 L184.05,404.33 L187.18,404.58 L190.30,404.83 L193.43,405.08 L196.56,405.32 L199.69,405.57 L202.81,405.80 L205.94,406.04 L209.07,406.27 L212.19,406.50 L215.32,406.73 L218.45,406.96 L221.57,407.18 L224.70,407.40 L227.83,407.62 L230.95,407.83 L234.08,408.05 L237.21,408.26 L240.34,408.47 L243.46,408.67 L246.59,408.88 L249.72,409.08 L252.84,409.28 L255.97,409.48 L259.10,409.67 L262.23,409.87 L265.35,410.06 L268.48,410.25 L271.61,410.44 L274.73,410.62 L277.86,410.81 L280.99,410.99 L284.11,411.17 L287.24,411.35 L290.37,411.52 L293.50,411.70 L296.62,411.87 L299.75,412.04 L302.88,412.21 L306.00,412.38 L309.13,412.55 L312.26,412.71 L315.38,412.88 L318.51,413.04 L321.64,413.20 L324.76,413.36 L327.89,413.51 L331.02,413.67 L334.15,413.82 L337.27,413.98 L340.40,414.13" fill="none" stroke="#f4947e" stroke-width="1.25" stroke-linejoin="round" stroke-linecap="round" />
<path d="M27.70,376.97 L30.83,377.56 L33.95,378.14 L37.08,378.71 L40.21,379.27 L43.34,379.83 L46.46,380.37 L49.59,380.91 L52.72,381.43 L55.84,381.95 L58.97,382.46 L62.10,382.97 L65.22,383.46 L68.35,383.95 L71.48,384.43 L74.61,384.90 L77.73,385.37 L80.86,385.82 L83.99,386.28 L87.11,386.72 L90.24,387.16 L93.37,387.59 L96.49,388.02 L99.62,388.44 L102.75,388.85 L105.88,389.26 L109.00,389.66 L112.13,390.06 L115.26,390.45 L118.38,390.84 L121.51,391.22 L124.64,391.59 L127.76,391.96 L130.89,392.33 L134.02,392.69 L137.14,393.05 L140.27,393.40 L143.40,393.75 L146.53,394.09 L149.65,394.43 L152.78,394.76 L155.91,395.09 L159.03,395.41 L162.16,395.74 L165.29,396.05 L168.41,396.37 L171.54,396.68 L174.67,396.98 L177.80,397.28 L180.92,397.58 L184.05,397.88 L187.18,398.17 L190.30,398.46 L193.43,398.74 L196.56,399.02 L199.69,399.30 L202.81,399.58 L205.94,399.85 L209.07,400.12 L212.19,400.38 L215.32,400.64 L218.45,400.90 L221.57,401.16 L224.70,401.41 L227.83,401.67 L230.95,401.91 L234.08,402.16 L237.21,402.40 L240.34,402.64 L243.46,402.88 L246.59,403.11 L249.72,403.35 L252.84,403.58 L255.97,403.81 L259.10,404.03 L262.23,404.25 L265.35,404.47 L268.48,404.69 L271.61,404.91 L274.73,405.12 L277.86,405.33 L280.99,405.54 L284.11,405.75 L287.24,405.96 L290.37,406.16 L293.50,406.36 L296.62,406.56 L299.75,406.76 L302.88,406.96 L306.00,407.15 L309.13,407.34 L312.26,407.53 L315.38,407.72 L318.51,407.91 L321.64,408.09 L324.76,408.27 L327.89,408.45 L331.02,408.63 L334.15,408.81 L337.27,408.99 L340.40,409.16" fill="none" stroke="#d8a0dc" stroke-width="1.25" stroke-linejoin="round" stroke-linecap="round" />
<path d="M27.70,367.76 L30.83,368.43 L33.95,369.09 L37.08,369.74 L40.21,370.37 L43.34,371.00 L46.46,371.62 L49.59,372.22 L52.72,372.82 L55.84,373.40 L58.97,373.98 L62.10,374.55 L65.22,375.11 L68.35,375.66 L71.48,376.21 L74.61,376.74 L77.73,377.27 L80.86,377.79 L83.99,378.30 L87.11,378.80 L90.24,379.30 L93.37,379.79 L96.49,380.27 L99.62,380.74 L102.75,381.21 L105.88,381.67 L109.00,382.13 L112.13,382.58 L115.26,383.02 L118.38,383.46 L121.51,383.89 L124.64,384.31 L127.76,384.73 L130.89,385.15 L134.02,385.56 L137.14,385.96 L140.27,386.36 L143.40,386.75 L146.53,387.14 L149.65,387.52 L152.78,387.90 L155.91,388.27 L159.03,388.64 L162.16,389.00 L165.29,389.36 L168.41,389.72 L171.54,390.07 L174.67,390.41 L177.80,390.75 L180.92,391.09 L184.05,391.43 L187.18,391.76 L190.30,392.08 L193.43,392.40 L196.56,392.72 L199.69,393.04 L202.81,393.35 L205.94,393.66 L209.07,393.96 L212.19,394.26 L215.32,394.56 L218.45,394.85 L221.57,395.14 L224.70,395.43 L227.83,395.71 L230.95,395.99 L234.08,396.27 L237.21,396.55 L240.34,396.82 L243.46,397.09 L246.59,397.35 L249.72,397.62 L252.84,397.88 L255.97,398.13 L259.10,398.39 L262.23,398.64 L265.35,398.89 L268.48,399.14 L271.61,399.38 L274.73,399.62 L277.86,399.86 L280.99,400.10 L284.11,400.34 L287.24,400.57 L290.37,400.80 L293.50,401.03 L296.62,401.25 L299.75,401.48 L302.88,401.70 L306.00,401.92 L309.13,402.13 L312.26,402.35 L315.38,402.56 L318.51,402.77 L321.64,402.98 L324.76,403.19 L327.89,403.39 L331.02,403.60 L334.15,403.80 L337.27,404.00 L340.40,404.20" fill="none" stroke="#f4947e" stroke-width="1.25" stroke-linejoin="round" stroke-linecap="round" />
<path d="M27.70,358.56 L30.83,359.30 L33.95,360.04 L37.08,360.76 L40.21,361.47 L43.34,362.17 L46.46,362.86 L49.59,363.54 L52.72,364.20 L55.84,364.86 L58.97,365.50 L62.10,366.14 L65.22,366.76 L68.35,367.38 L71.48,367.98 L74.61,368.58 L77.73,369.17 L80.86,369.75 L83.99,370.32 L87.11,370.88 L90.24,371.43 L93.37,371.98 L96.49,372.52 L99.62,373.05 L102.75,373.57 L105.88,374.09 L109.00,374.60 L112.13,375.10 L115.26,375.59 L118.38,376.08 L121.51,376.56 L124.64,377.04 L127.76,377.50 L130.89,377.97 L134.02,378.42 L137.14,378.87 L140.27,379.32 L143.40,379.75 L146.53,380.19 L149.65,380.61 L152.78,381.04 L155.91,381.45 L159.03,381.86 L162.16,382.27 L165.29,382.67 L168.41,383.07 L171.54,383.46 L174.67,383.84 L177.80,384.22 L180.92,384.60 L184.05,384.97 L187.18,385.34 L190.30,385.71 L193.43,386.07 L196.56,386.42 L199.69,386.77 L202.81,387.12 L205.94,387.46 L209.07,387.80 L212.19,388.14 L215.32,388.47 L218.45,388.80 L221.57,389.12 L224.70,389.44 L227.83,389.76 L230.95,390.07 L234.08,390.38 L237.21,390.69 L240.34,390.99 L243.46,391.29 L246.59,391.59 L249.72,391.88 L252.84,392.17 L255.97,392.46 L259.10,392.75 L262.23,393.03 L265.35,393.31 L268.48,393.58 L271.61,393.86 L274.73,394.13 L277.86,394.39 L280.99,394.66 L284.11,394.92 L287.24,395.18 L290.37,395.44 L293.50,395.69 L296.62,395.94 L299.75,396.19 L302.88,396.44 L306.00,396.69 L309.13,396.93 L312.26,397.17 L315.38,397.41 L318.51,397.64 L321.64,397.87 L324.76,398.11 L327.89,398.33 L331.02,398.56 L334.15,398.79 L337.27,399.01 L340.40,399.23" fill="none" stroke="#d8a0dc" stroke-width="1.25" stroke-linejoin="round" stroke-linecap="round" />
<path d="M27.70,349.35 L30.83,350.18 L33.95,350.99 L37.08,351.79 L40.21,352.57 L43.34,353.34 L46.46,354.10 L49.59,354.85 L52.72,355.58 L55.84,356.31 L58.97,357.02 L62.10,357.72 L65.22,358.41 L68.35,359.09 L71.48,359.76 L74.61,360.42 L77.73,361.07 L80.86,361.71 L83.99,362.34 L87.11,362.96 L90.24,363.57 L93.37,364.17 L96.49,364.77 L99.62,365.35 L102.75,365.93 L105.88,366.50 L109.00,367.06 L112.13,367.62 L115.26,368.16 L118.38,368.70 L121.51,369.23 L124.64,369.76 L127.76,370.27 L130.89,370.78 L134.02,371.29 L137.14,371.78 L140.27,372.27 L143.40,372.76 L146.53,373.24 L149.65,373.71 L152.78,374.17 L155.91,374.63 L159.03,375.09 L162.16,375.53 L165.29,375.98 L168.41,376.41 L171.54,376.85 L174.67,377.27 L177.80,377.69 L180.92,378.11 L184.05,378.52 L187.18,378.93 L190.30,379.33 L193.43,379.73 L196.56,380.12 L199.69,380.51 L202.81,380.89 L205.94,381.27 L209.07,381.64 L212.19,382.01 L215.32,382.38 L218.45,382.74 L221.57,383.10 L224.70,383.45 L227.83,383.80 L230.95,384.15 L234.08,384.49 L237.21,384.83 L240.34,385.17 L243.46,385.50 L246.59,385.83 L249.72,386.15 L252.84,386.47 L255.97,386.79 L259.10,387.10 L262.23,387.42 L265.35,387.72 L268.48,388.03 L271.61,388.33 L274.73,388.63 L277.86,388.92 L280.99,389.22 L284.11,389.51 L287.24,389.79 L290.37,390.08 L293.50,390.36 L296.62,390.64 L299.75,390.91 L302.88,391.18 L306.00,391.45 L309.13,391.72 L312.26,391.99 L315.38,392.25 L318.51,392.51 L321.64,392.77 L324.76,393.02 L327.89,393.27 L331.02,393.52 L334.15,393.77 L337.27,394.02 L340.40,394.26" fill="none" stroke="#f4947e" stroke-width="1.25" stroke-linejoin="round" stroke-linecap="round" />
<path d="M27.70,340.15 L30.83,341.05 L33.95,341.94 L37.08,342.81 L40.21,343.67 L43.34,344.51 L46.46,345.35 L49.59,346.16 L52.72,346.97 L55.84,347.76 L58.97,348.54 L62.10,349.31 L65.22,350.06 L68.35,350.81 L71.48,351.54 L74.61,352.26 L77.73,352.97 L80.86,353.67 L83.99,354.36 L87.11,355.04 L90.24,355.71 L93.37,356.37 L96.49,357.02 L99.62,357.66 L102.75,358.29 L105.88,358.91 L109.00,359.53 L112.13,360.14 L115.26,360.73 L118.38,361.32 L121.51,361.90 L124.64,362.48 L127.76,363.04 L130.89,363.60 L134.02,364.15 L137.14,364.70 L140.27,365.23 L143.40,365.76 L146.53,366.28 L149.65,366.80 L152.78,367.31 L155.91,367.81 L159.03,368.31 L162.16,368.80 L165.29,369.29 L168.41,369.76 L171.54,370.24 L174.67,370.70 L177.80,371.16 L180.92,371.62 L184.05,372.07 L187.18,372.52 L190.30,372.95 L193.43,373.39 L196.56,373.82 L199.69,374.24 L202.81,374.66 L205.94,375.08 L209.07,375.49 L212.19,375.89 L215.32,376.29 L218.45,376.69 L221.57,377.08 L224.70,377.47 L227.83,377.85 L230.95,378.23 L234.08,378.61 L237.21,378.98 L240.34,379.34 L243.46,379.71 L246.59,380.06 L249.72,380.42 L252.84,380.77 L255.97,381.12 L259.10,381.46 L262.23,381.80 L265.35,382.14 L268.48,382.47 L271.61,382.80 L274.73,383.13 L277.86,383.45 L280.99,383.77 L284.11,384.09 L287.24,384.40 L290.37,384.71 L293.50,385.02 L296.62,385.33 L299.75,385.63 L302.88,385.93 L306.00,386.22 L309.13,386.52 L312.26,386.81 L315.38,387.09 L318.51,387.38 L321.64,387.66 L324.76,387.94 L327.89,388.21 L331.02,388.49 L334.15,388.76 L337.27,389.03 L340.40,389.30" fill="none" stroke="#d8a0dc" stroke-width="1.25" stroke-linejoin="round" stroke-linecap="round" />
<path d="M27.70,330.94 L30.83,331.92 L33.95,332.89 L37.08,333.84 L40.21,334.77 L43.34,335.69 L46.46,336.59 L49.59,337.48 L52.72,338.35 L55.84,339.21 L58.97,340.06 L62.10,340.89 L65.22,341.71 L68.35,342.52 L71.48,343.32 L74.61,344.10 L77.73,344.87 L80.86,345.63 L83.99,346.38 L87.11,347.12 L90.24,347.85 L93.37,348.56 L96.49,349.27 L99.62,349.97 L102.75,350.65 L105.88,351.33 L109.00,352.00 L112.13,352.65 L115.26,353.30 L118.38,353.94 L121.51,354.57 L124.64,355.20 L127.76,355.81 L130.89,356.42 L134.02,357.02 L137.14,357.61 L140.27,358.19 L143.40,358.77 L146.53,359.33 L149.65,359.89 L152.78,360.45 L155.91,360.99 L159.03,361.53 L162.16,362.07 L165.29,362.59 L168.41,363.11 L171.54,363.63 L174.67,364.13 L177.80,364.63 L180.92,365.13 L184.05,365.62 L187.18,366.10 L190.30,366.58 L193.43,367.05 L196.56,367.52 L199.69,367.98 L202.81,368.43 L205.94,368.88 L209.07,369.33 L212.19,369.77 L215.32,370.21 L218.45,370.64 L221.57,371.06 L224.70,371.48 L227.83,371.90 L230.95,372.31 L234.08,372.72 L237.21,373.12 L240.34,373.52 L243.46,373.91 L246.59,374.30 L249.72,374.69 L252.84,375.07 L255.97,375.45 L259.10,375.82 L262.23,376.19 L265.35,376.56 L268.48,376.92 L271.61,377.28 L274.73,377.63 L277.86,377.98 L280.99,378.33 L284.11,378.67 L287.24,379.02 L290.37,379.35 L293.50,379.69 L296.62,380.02 L299.75,380.35 L302.88,380.67 L306.00,380.99 L309.13,381.31 L312.26,381.62 L315.38,381.94 L318.51,382.24 L321.64,382.55 L324.76,382.85 L327.89,383.15 L331.02,383.45 L334.15,383.75 L337.27,384.04 L340.40,384.33" fill="none" stroke="#f4947e" stroke-width="1.25" stroke-linejoin="round" stroke-linecap="round" />
<path d="M27.70,321.74 L30.83,322.80 L33.95,323.84 L37.08,324.86 L40.21,325.87 L43.34,326.86 L46.46,327.83 L49.59,328.79 L52.72,329.73 L55.84,330.66 L58.97,331.58 L62.10,332.48 L65.22,333.36 L68.35,334.23 L71.48,335.09 L74.61,335.94 L77.73,336.77 L80.86,337.59 L83.99,338.40 L87.11,339.20 L90.24,339.98 L93.37,340.76 L96.49,341.52 L99.62,342.27 L102.75,343.01 L105.88,343.74 L109.00,344.46 L112.13,345.17 L115.26,345.87 L118.38,346.56 L121.51,347.25 L124.64,347.92 L127.76,348.58 L130.89,349.24 L134.02,349.88 L137.14,350.52 L140.27,351.15 L143.40,351.77 L146.53,352.38 L149.65,352.99 L152.78,353.59 L155.91,354.18 L159.03,354.76 L162.16,355.33 L165.29,355.90 L168.41,356.46 L171.54,357.02 L174.67,357.56 L177.80,358.10 L180.92,358.64 L184.05,359.17 L187.18,359.69 L190.30,360.20 L193.43,360.71 L196.56,361.22 L199.69,361.71 L202.81,362.21 L205.94,362.69 L209.07,363.17 L212.19,363.65 L215.32,364.12 L218.45,364.58 L221.57,365.04 L224.70,365.50 L227.83,365.94 L230.95,366.39 L234.08,366.83 L237.21,367.26 L240.34,367.69 L243.46,368.12 L246.59,368.54 L249.72,368.96 L252.84,369.37 L255.97,369.78 L259.10,370.18 L262.23,370.58 L265.35,370.97 L268.48,371.36 L271.61,371.75 L274.73,372.13 L277.86,372.51 L280.99,372.89 L284.11,373.26 L287.24,373.63 L290.37,373.99 L293.50,374.35 L296.62,374.71 L299.75,375.06 L302.88,375.41 L306.00,375.76 L309.13,376.10 L312.26,376.44 L315.38,376.78 L318.51,377.11 L321.64,377.44 L324.76,377.77 L327.89,378.09 L331.02,378.42 L334.15,378.73 L337.27,379.05 L340.40,379.36" fill="none" stroke="#d8a0dc" stroke-width="1.25" stroke-linejoin="round" stroke-linecap="round" />
<path d="M27.70,312.53 L30.83,313.67 L33.95,314.79 L37.08,315.89 L40.21,316.97 L43.34,318.03 L46.46,319.08 L49.59,320.11 L52.72,321.12 L55.84,322.12 L58.97,323.10 L62.10,324.06 L65.22,325.01 L68.35,325.95 L71.48,326.87 L74.61,327.78 L77.73,328.67 L80.86,329.55 L83.99,330.42 L87.11,331.28 L90.24,332.12 L93.37,332.95 L96.49,333.77 L99.62,334.58 L102.75,335.37 L105.88,336.16 L109.00,336.93 L112.13,337.69 L115.26,338.44 L118.38,339.19 L121.51,339.92 L124.64,340.64 L127.76,341.35 L130.89,342.05 L134.02,342.75 L137.14,343.43 L140.27,344.11 L143.40,344.77 L146.53,345.43 L149.65,346.08 L152.78,346.72 L155.91,347.36 L159.03,347.98 L162.16,348.60 L165.29,349.21 L168.41,349.81 L171.54,350.41 L174.67,350.99 L177.80,351.57 L180.92,352.15 L184.05,352.71 L187.18,353.27 L190.30,353.83 L193.43,354.37 L196.56,354.91 L199.69,355.45 L202.81,355.98 L205.94,356.50 L209.07,357.01 L212.19,357.53 L215.32,358.03 L218.45,358.53 L221.57,359.02 L224.70,359.51 L227.83,359.99 L230.95,360.47 L234.08,360.94 L237.21,361.41 L240.34,361.87 L243.46,362.32 L246.59,362.78 L249.72,363.22 L252.84,363.67 L255.97,364.10 L259.10,364.54 L262.23,364.96 L265.35,365.39 L268.48,365.81 L271.61,366.22 L274.73,366.64 L277.86,367.04 L280.99,367.45 L284.11,367.84 L287.24,368.24 L290.37,368.63 L293.50,369.02 L296.62,369.40 L299.75,369.78 L302.88,370.16 L306.00,370.53 L309.13,370.90 L312.26,371.26 L315.38,371.62 L318.51,371.98 L321.64,372.34 L324.76,372.69 L327.89,373.04 L331.02,373.38 L334.15,373.72 L337.27,374.06 L340.40,374.40" fill="none" stroke="#f4947e" stroke-width="1.25" stroke-linejoin="round" stroke-linecap="round" />
<path d="M27.70,303.33 L30.83,304.54 L33.95,305.74 L37.08,306.91 L40.21,308.07 L43.34,309.20 L46.46,310.32 L49.59,311.42 L52.72,312.50 L55.84,313.57 L58.97,314.62 L62.10,315.65 L65.22,316.66 L68.35,317.66 L71.48,318.65 L74.61,319.62 L77.73,320.57 L80.86,321.52 L83.99,322.44 L87.11,323.36 L90.24,324.26 L93.37,325.14 L96.49,326.02 L99.62,326.88 L102.75,327.73 L105.88,328.57 L109.00,329.40 L112.13,330.21 L115.26,331.01 L118.38,331.81 L121.51,332.59 L124.64,333.36 L127.76,334.12 L130.89,334.87 L134.02,335.61 L137.14,336.34 L140.27,337.07 L143.40,337.78 L146.53,338.48 L149.65,339.18 L152.78,339.86 L155.91,340.54 L159.03,341.21 L162.16,341.87 L165.29,342.52 L168.41,343.16 L171.54,343.80 L174.67,344.42 L177.80,345.04 L180.92,345.66 L184.05,346.26 L187.18,346.86 L190.30,347.45 L193.43,348.04 L196.56,348.61 L199.69,349.18 L202.81,349.75 L205.94,350.31 L209.07,350.86 L212.19,351.40 L215.32,351.94 L218.45,352.47 L221.57,353.00 L224.70,353.52 L227.83,354.04 L230.95,354.55 L234.08,355.05 L237.21,355.55 L240.34,356.04 L243.46,356.53 L246.59,357.01 L249.72,357.49 L252.84,357.96 L255.97,358.43 L259.10,358.89 L262.23,359.35 L265.35,359.81 L268.48,360.25 L271.61,360.70 L274.73,361.14 L277.86,361.57 L280.99,362.00 L284.11,362.43 L287.24,362.85 L290.37,363.27 L293.50,363.68 L296.62,364.09 L299.75,364.50 L302.88,364.90 L306.00,365.30 L309.13,365.69 L312.26,366.08 L315.38,366.47 L318.51,366.85 L321.64,367.23 L324.76,367.60 L327.89,367.98 L331.02,368.34 L334.15,368.71 L337.27,369.07 L340.40,369.43" fill="none" stroke="#d8a0dc" stroke-width="1.25" stroke-linejoin="round" stroke-linecap="round" />
<path d="M27.70,294.12 L30.83,295.42 L33.95,296.69 L37.08,297.94 L40.21,299.17 L43.34,300.37 L46.46,301.56 L49.59,302.73 L52.72,303.89 L55.84,305.02 L58.97,306.13 L62.10,307.23 L65.22,308.31 L68.35,309.38 L71.48,310.43 L74.61,311.46 L77.73,312.47 L80.86,313.48 L83.99,314.46 L87.11,315.44 L90.24,316.39 L93.37,317.34 L96.49,318.27 L99.62,319.19 L102.75,320.09 L105.88,320.98 L109.00,321.86 L112.13,322.73 L115.26,323.58 L118.38,324.43 L121.51,325.26 L124.64,326.08 L127.76,326.89 L130.89,327.69 L134.02,328.48 L137.14,329.26 L140.27,330.02 L143.40,330.78 L146.53,331.53 L149.65,332.27 L152.78,333.00 L155.91,333.72 L159.03,334.43 L162.16,335.13 L165.29,335.82 L168.41,336.51 L171.54,337.19 L174.67,337.85 L177.80,338.51 L180.92,339.17 L184.05,339.81 L187.18,340.45 L190.30,341.08 L193.43,341.70 L196.56,342.31 L199.69,342.92 L202.81,343.52 L205.94,344.11 L209.07,344.70 L212.19,345.28 L215.32,345.85 L218.45,346.42 L221.57,346.98 L224.70,347.54 L227.83,348.08 L230.95,348.63 L234.08,349.16 L237.21,349.69 L240.34,350.22 L243.46,350.74 L246.59,351.25 L249.72,351.76 L252.84,352.26 L255.97,352.76 L259.10,353.25 L262.23,353.74 L265.35,354.22 L268.48,354.70 L271.61,355.17 L274.73,355.64 L277.86,356.10 L280.99,356.56 L284.11,357.01 L287.24,357.46 L290.37,357.91 L293.50,358.35 L296.62,358.78 L299.75,359.21 L302.88,359.64 L306.00,360.06 L309.13,360.48 L312.26,360.90 L315.38,361.31 L318.51,361.72 L321.64,362.12 L324.76,362.52 L327.89,362.92 L331.02,363.31 L334.15,363.70 L337.27,364.08 L340.40,364.46" fill="none" stroke="#f4947e" stroke-width="1.25" stroke-linejoin="round" stroke-linecap="round" />
<path d="M27.70,284.92 L30.83,286.29 L33.95,287.64 L37.08,288.96 L40.21,290.26 L43.34,291.55 L46.46,292.81 L49.59,294.05 L52.72,295.27 L55.84,296.47 L58.97,297.65 L62.10,298.82 L65.22,299.96 L68.35,301.09 L71.48,302.20 L74.61,303.30 L77.73,304.38 L80.86,305.44 L83.99,306.48 L87.11,307.52 L90.24,308.53 L93.37,309.53 L96.49,310.52 L99.62,311.49 L102.75,312.45 L105.88,313.40 L109.00,314.33 L112.13,315.25 L115.26,316.16 L118.38,317.05 L121.51,317.93 L124.64,318.80 L127.76,319.66 L130.89,320.51 L134.02,321.34 L137.14,322.17 L140.27,322.98 L143.40,323.79 L146.53,324.58 L149.65,325.36 L152.78,326.14 L155.91,326.90 L159.03,327.65 L162.16,328.40 L165.29,329.13 L168.41,329.86 L171.54,330.58 L174.67,331.28 L177.80,331.98 L180.92,332.68 L184.05,333.36 L187.18,334.03 L190.30,334.70 L193.43,335.36 L196.56,336.01 L199.69,336.66 L202.81,337.29 L205.94,337.92 L209.07,338.54 L212.19,339.16 L215.32,339.77 L218.45,340.37 L221.57,340.96 L224.70,341.55 L227.83,342.13 L230.95,342.71 L234.08,343.27 L237.21,343.84 L240.34,344.39 L243.46,344.94 L246.59,345.49 L249.72,346.03 L252.84,346.56 L255.97,347.09 L259.10,347.61 L262.23,348.13 L265.35,348.64 L268.48,349.14 L271.61,349.64 L274.73,350.14 L277.86,350.63 L280.99,351.12 L284.11,351.60 L287.24,352.07 L290.37,352.55 L293.50,353.01 L296.62,353.47 L299.75,353.93 L302.88,354.38 L306.00,354.83 L309.13,355.28 L312.26,355.72 L315.38,356.15 L318.51,356.58 L321.64,357.01 L324.76,357.44 L327.89,357.86 L331.02,358.27 L334.15,358.68 L337.27,359.09 L340.40,359.50" fill="none" stroke="#d8a0dc" stroke-width="1.25" stroke-linejoin="round" stroke-linecap="round" />
<path d="M203.60,366.60 L204.28,366.70 L204.95,366.81 L205.63,366.91 L206.31,367.01 L206.98,367.12 L207.66,367.22 L208.34,367.33 L209.02,367.44 L209.69,367.54 L210.37,367.65 L211.05,367.76 L211.72,367.87 L212.40,367.98 L213.08,368.09 L213.75,368.20 L214.43,368.31 L215.11,368.42 L215.78,368.53 L216.46,368.64 L217.14,368.76 L217.82,368.87 L218.49,368.98 L219.17,369.10 L219.85,369.21 L220.52,369.33 L221.20,369.44 L221.88,369.56 L222.55,369.68 L223.23,369.80 L223.91,369.91 L224.58,370.03 L225.26,370.15 L225.94,370.27 L226.62,370.39 L227.29,370.51 L227.97,370.63 L228.65,370.75 L229.32,370.88 L230.00,371.00" fill="none" stroke="#000" stroke-width="2.2" stroke-linejoin="round" stroke-linecap="round" />
<circle cx="230.00" cy="371.00" r="1.05" fill="#000"/>
<path d="M157.20,370.90 L159.16,371.25 L161.12,371.60 L163.08,371.95 L165.04,372.30 L166.99,372.64 L168.95,372.99 L170.91,373.33 L172.87,373.67 L174.83,374.01 L176.79,374.35 L178.75,374.68 L180.71,375.01 L182.67,375.35 L184.63,375.68 L186.58,376.01 L188.54,376.33 L190.50,376.66 L192.46,376.98 L194.42,377.31 L196.38,377.63 L198.34,377.94 L200.30,378.26 L202.26,378.58 L204.22,378.89 L206.17,379.20 L208.13,379.51 L210.09,379.82 L212.05,380.13 L214.01,380.44 L215.97,380.74 L217.93,381.04 L219.89,381.34 L221.85,381.64 L223.81,381.94 L225.76,382.23 L227.72,382.53 L229.68,382.82 L231.64,383.11 L233.60,383.40" fill="none" stroke="#000" stroke-width="2.2" stroke-linejoin="round" stroke-linecap="round" />
<circle cx="233.60" cy="383.40" r="1.05" fill="#000"/>
<path d="M150.30,382.90 L151.89,383.18 L153.49,383.45 L155.08,383.73 L156.68,384.00 L158.27,384.27 L159.87,384.54 L161.46,384.80 L163.06,385.06 L164.65,385.33 L166.25,385.58 L167.84,385.84 L169.44,386.10 L171.03,386.35 L172.63,386.60 L174.22,386.85 L175.82,387.10 L177.41,387.34 L179.01,387.58 L180.60,387.82 L182.20,388.06 L183.79,388.30 L185.39,388.53 L186.98,388.76 L188.58,388.99 L190.17,389.22 L191.77,389.45 L193.36,389.67 L194.96,389.89 L196.55,390.11 L198.15,390.33 L199.74,390.55 L201.34,390.76 L202.93,390.97 L204.53,391.18 L206.12,391.39 L207.72,391.59 L209.31,391.80 L210.91,392.00 L212.50,392.20" fill="none" stroke="#000" stroke-width="2.0" stroke-linejoin="round" stroke-linecap="round" />
<circle cx="212.50" cy="392.20" r="1.05" fill="#000"/>
<circle cx="214.60" cy="392.45" r="1.05" fill="#000"/>
<circle cx="216.70" cy="392.71" r="1.05" fill="#000"/>
<circle cx="218.80" cy="392.96" r="1.05" fill="#000"/>
<circle cx="220.90" cy="393.21" r="1.05" fill="#000"/>
<circle cx="223.00" cy="393.45" r="1.05" fill="#000"/>
<circle cx="225.10" cy="393.69" r="1.05" fill="#000"/>
<circle cx="227.20" cy="393.93" r="1.05" fill="#000"/>
<circle cx="229.30" cy="394.16" r="1.05" fill="#000"/>
<circle cx="231.40" cy="394.39" r="1.05" fill="#000"/>
<circle cx="233.50" cy="394.62" r="1.05" fill="#000"/>
<circle cx="235.60" cy="394.84" r="1.05" fill="#000"/>
<circle cx="237.70" cy="395.06" r="1.05" fill="#000"/>
<circle cx="239.80" cy="395.28" r="1.05" fill="#000"/>
<circle cx="241.90" cy="395.49" r="1.05" fill="#000"/>
<path d="M144.00,396.00 L145.36,396.20 L146.72,396.39 L148.08,396.59 L149.44,396.78 L150.79,396.97 L152.15,397.16 L153.51,397.35 L154.87,397.54 L156.23,397.73 L157.59,397.91 L158.95,398.10 L160.31,398.28 L161.67,398.47 L163.03,398.65 L164.38,398.83 L165.74,399.01 L167.10,399.19 L168.46,399.36 L169.82,399.54 L171.18,399.71 L172.54,399.89 L173.90,400.06 L175.26,400.23 L176.62,400.40 L177.97,400.57 L179.33,400.74 L180.69,400.91 L182.05,401.07 L183.41,401.24 L184.77,401.40 L186.13,401.57 L187.49,401.73 L188.85,401.89 L190.21,402.05 L191.56,402.21 L192.92,402.36 L194.28,402.52 L195.64,402.67 L197.00,402.83" fill="none" stroke="#000" stroke-width="2.0" stroke-linejoin="round" stroke-linecap="round" />
<circle cx="197.00" cy="402.83" r="1.05" fill="#000"/>
<circle cx="199.66" cy="403.12" r="1.05" fill="#000"/>
<circle cx="202.33" cy="403.42" r="1.05" fill="#000"/>
<circle cx="205.02" cy="403.71" r="1.05" fill="#000"/>
<circle cx="207.71" cy="404.00" r="1.05" fill="#000"/>
<circle cx="210.42" cy="404.28" r="1.05" fill="#000"/>
<circle cx="213.13" cy="404.57" r="1.05" fill="#000"/>
<circle cx="215.86" cy="404.84" r="1.05" fill="#000"/>
<circle cx="218.60" cy="405.12" r="1.05" fill="#000"/>
<circle cx="221.34" cy="405.39" r="1.05" fill="#000"/>
<circle cx="224.10" cy="405.66" r="1.05" fill="#000"/>
<circle cx="226.87" cy="405.92" r="1.05" fill="#000"/>
<circle cx="229.66" cy="406.18" r="1.05" fill="#000"/>
<circle cx="232.45" cy="406.44" r="1.05" fill="#000"/>
<circle cx="235.25" cy="406.69" r="1.05" fill="#000"/>
<circle cx="238.07" cy="406.94" r="1.05" fill="#000"/>
<circle cx="240.89" cy="407.19" r="1.05" fill="#000"/>
<circle cx="243.73" cy="407.43" r="1.05" fill="#000"/>
<circle cx="246.58" cy="407.67" r="1.05" fill="#000"/>
<circle cx="249.44" cy="407.90" r="1.05" fill="#000"/>
<circle cx="252.31" cy="408.13" r="1.05" fill="#000"/>
<circle cx="255.20" cy="408.35" r="1.05" fill="#000"/>
<circle cx="135.00" cy="409.00" r="1.0" fill="#000"/>
<circle cx="136.50" cy="409.19" r="1.0" fill="#000"/>
<circle cx="138.04" cy="409.39" r="1.0" fill="#000"/>
<circle cx="139.62" cy="409.58" r="1.0" fill="#000"/>
<circle cx="141.25" cy="409.79" r="1.0" fill="#000"/>
<circle cx="142.92" cy="409.99" r="1.0" fill="#000"/>
<circle cx="144.63" cy="410.20" r="1.0" fill="#000"/>
<circle cx="146.39" cy="410.42" r="1.0" fill="#000"/>
<circle cx="148.20" cy="410.63" r="1.0" fill="#000"/>
<circle cx="150.05" cy="410.85" r="1.0" fill="#000"/>
<circle cx="151.96" cy="411.08" r="1.0" fill="#000"/>
<circle cx="153.92" cy="411.31" r="1.0" fill="#000"/>
<circle cx="155.93" cy="411.54" r="1.0" fill="#000"/>
<circle cx="157.99" cy="411.78" r="1.0" fill="#000"/>
<circle cx="160.11" cy="412.02" r="1.0" fill="#000"/>
<circle cx="162.29" cy="412.26" r="1.0" fill="#000"/>
<circle cx="164.53" cy="412.51" r="1.0" fill="#000"/>
<circle cx="166.83" cy="412.76" r="1.0" fill="#000"/>
<circle cx="169.19" cy="413.01" r="1.0" fill="#000"/>
<circle cx="171.61" cy="413.27" r="1.0" fill="#000"/>
<circle cx="174.10" cy="413.53" r="1.0" fill="#000"/>
<circle cx="176.65" cy="413.79" r="1.0" fill="#000"/>
<circle cx="179.28" cy="414.05" r="1.0" fill="#000"/>
<circle cx="181.97" cy="414.32" r="1.0" fill="#000"/>
<circle cx="184.74" cy="414.59" r="1.0" fill="#000"/>
<circle cx="187.58" cy="414.87" r="1.0" fill="#000"/>
<circle cx="190.50" cy="415.14" r="1.0" fill="#000"/>
<circle cx="193.50" cy="415.42" r="1.0" fill="#000"/>
<circle cx="196.58" cy="415.70" r="1.0" fill="#000"/>
<circle cx="199.75" cy="415.98" r="1.0" fill="#000"/>
<circle cx="202.99" cy="416.26" r="1.0" fill="#000"/>
<circle cx="206.33" cy="416.54" r="1.0" fill="#000"/>
<circle cx="209.76" cy="416.82" r="1.0" fill="#000"/>
<circle cx="213.27" cy="417.11" r="1.0" fill="#000"/>
<circle cx="216.89" cy="417.39" r="1.0" fill="#000"/>
<circle cx="220.60" cy="417.67" r="1.0" fill="#000"/>
<circle cx="224.41" cy="417.95" r="1.0" fill="#000"/>
<circle cx="228.32" cy="418.23" r="1.0" fill="#000"/>
<circle cx="232.34" cy="418.50" r="1.0" fill="#000"/>
<circle cx="236.47" cy="418.78" r="1.0" fill="#000"/>
<circle cx="240.71" cy="419.05" r="1.0" fill="#000"/>
<circle cx="245.07" cy="419.31" r="1.0" fill="#000"/>
<circle cx="249.54" cy="419.57" r="1.0" fill="#000"/>
<circle cx="254.13" cy="419.83" r="1.0" fill="#000"/>
<circle cx="258.85" cy="420.07" r="1.0" fill="#000"/>
<circle cx="263.69" cy="420.31" r="1.0" fill="#000"/>
<circle cx="268.66" cy="420.54" r="1.0" fill="#000"/>
<circle cx="273.77" cy="420.76" r="1.0" fill="#000"/>
<circle cx="279.02" cy="420.97" r="1.0" fill="#000"/>
<circle cx="115.10" cy="421.70" r="1.05" fill="#000"/>
<circle cx="117.20" cy="421.90" r="1.05" fill="#000"/>
<circle cx="119.33" cy="422.10" r="1.05" fill="#000"/>
<circle cx="121.48" cy="422.30" r="1.05" fill="#000"/>
<circle cx="123.66" cy="422.50" r="1.05" fill="#000"/>
<circle cx="125.87" cy="422.71" r="1.05" fill="#000"/>
<circle cx="128.11" cy="422.91" r="1.05" fill="#000"/>
<circle cx="130.37" cy="423.11" r="1.05" fill="#000"/>
<circle cx="132.67" cy="423.32" r="1.05" fill="#000"/>
<circle cx="134.99" cy="423.52" r="1.05" fill="#000"/>
<circle cx="137.34" cy="423.73" r="1.05" fill="#000"/>
<circle cx="139.72" cy="423.93" r="1.05" fill="#000"/>
<circle cx="142.14" cy="424.14" r="1.05" fill="#000"/>
<circle cx="144.58" cy="424.34" r="1.05" fill="#000"/>
<circle cx="147.05" cy="424.54" r="1.05" fill="#000"/>
<circle cx="149.56" cy="424.75" r="1.05" fill="#000"/>
<circle cx="152.10" cy="424.95" r="1.05" fill="#000"/>
<circle cx="154.67" cy="425.16" r="1.05" fill="#000"/>
<circle cx="157.27" cy="425.36" r="1.05" fill="#000"/>
<circle cx="159.91" cy="425.57" r="1.05" fill="#000"/>
<circle cx="162.58" cy="425.77" r="1.05" fill="#000"/>
<circle cx="166.10" cy="426.03" r="1.05" fill="#000"/>
<circle cx="168.90" cy="426.24" r="1.05" fill="#000"/>
<circle cx="171.90" cy="426.46" r="1.05" fill="#000"/>
<circle cx="174.60" cy="426.65" r="1.05" fill="#000"/>
<circle cx="177.60" cy="426.86" r="1.05" fill="#000"/>
<circle cx="180.30" cy="427.04" r="1.05" fill="#000"/>
<circle cx="183.30" cy="427.25" r="1.05" fill="#000"/>
<circle cx="186.70" cy="427.47" r="1.05" fill="#000"/>
<circle cx="190.10" cy="427.69" r="1.05" fill="#000"/>
<circle cx="193.60" cy="427.91" r="1.05" fill="#000"/>
<circle cx="197.00" cy="428.12" r="1.05" fill="#000"/>
<circle cx="200.40" cy="428.33" r="1.05" fill="#000"/>
<circle cx="204.30" cy="428.56" r="1.05" fill="#000"/>
<circle cx="208.40" cy="428.79" r="1.05" fill="#000"/>
<circle cx="211.90" cy="428.98" r="1.05" fill="#000"/>
<circle cx="216.40" cy="429.23" r="1.05" fill="#000"/>
<circle cx="221.00" cy="429.46" r="1.05" fill="#000"/>
<circle cx="224.90" cy="429.66" r="1.05" fill="#000"/>
<circle cx="229.50" cy="429.88" r="1.05" fill="#000"/>
<circle cx="233.60" cy="430.07" r="1.05" fill="#000"/>
<circle cx="238.10" cy="430.27" r="1.05" fill="#000"/>
<circle cx="242.70" cy="430.47" r="1.05" fill="#000"/>
<circle cx="248.80" cy="430.71" r="1.05" fill="#000"/>
<circle cx="255.70" cy="430.97" r="1.05" fill="#000"/>
<circle cx="262.00" cy="431.19" r="1.05" fill="#000"/>
<circle cx="268.90" cy="431.41" r="1.05" fill="#000"/>
<circle cx="275.50" cy="431.61" r="1.05" fill="#000"/>
<circle cx="283.00" cy="431.80" r="1.05" fill="#000"/>
<circle cx="290.90" cy="431.98" r="1.05" fill="#000"/>
<circle cx="299.70" cy="432.15" r="1.05" fill="#000"/>
<circle cx="309.10" cy="432.30" r="1.05" fill="#000"/>
<circle cx="321.10" cy="432.43" r="1.05" fill="#000"/>
<circle cx="333.70" cy="432.50" r="1.05" fill="#000"/>
<circle cx="52.40" cy="434.40" r="1.05" fill="#000"/>
<circle cx="61.40" cy="434.61" r="1.05" fill="#000"/>
<circle cx="67.40" cy="434.76" r="1.05" fill="#000"/>
<circle cx="72.60" cy="434.88" r="1.05" fill="#000"/>
<circle cx="78.00" cy="435.01" r="1.05" fill="#000"/>
<circle cx="86.40" cy="435.21" r="1.05" fill="#000"/>
<circle cx="97.40" cy="435.47" r="1.05" fill="#000"/>
<circle cx="107.20" cy="435.70" r="1.05" fill="#000"/>
<circle cx="111.10" cy="435.79" r="1.05" fill="#000"/>
<circle cx="115.40" cy="435.89" r="1.05" fill="#000"/>
<circle cx="118.90" cy="435.98" r="1.05" fill="#000"/>
<circle cx="123.20" cy="436.08" r="1.05" fill="#000"/>
<circle cx="126.60" cy="436.16" r="1.05" fill="#000"/>
<circle cx="130.50" cy="436.25" r="1.05" fill="#000"/>
<circle cx="134.30" cy="436.34" r="1.05" fill="#000"/>
<circle cx="138.10" cy="436.43" r="1.05" fill="#000"/>
<circle cx="142.00" cy="436.52" r="1.05" fill="#000"/>
<circle cx="145.50" cy="436.61" r="1.05" fill="#000"/>
<circle cx="149.40" cy="436.70" r="1.05" fill="#000"/>
</g>
<rect x="27.7" y="366.6" width="312.7" height="71.39999999999998" fill="none" stroke="#8c8c8c" stroke-width="1.1"/>
<line x1="27.70" y1="438.00" x2="27.70" y2="435.80" stroke="#4a4a4a" stroke-width="0.9" />
<line x1="27.70" y1="366.60" x2="27.70" y2="368.80" stroke="#4a4a4a" stroke-width="0.9" />
<line x1="79.82" y1="438.00" x2="79.82" y2="435.80" stroke="#4a4a4a" stroke-width="0.9" />
<line x1="79.82" y1="366.60" x2="79.82" y2="368.80" stroke="#4a4a4a" stroke-width="0.9" />
<line x1="131.93" y1="438.00" x2="131.93" y2="435.80" stroke="#4a4a4a" stroke-width="0.9" />
<line x1="131.93" y1="366.60" x2="131.93" y2="368.80" stroke="#4a4a4a" stroke-width="0.9" />
<line x1="184.05" y1="438.00" x2="184.05" y2="435.80" stroke="#4a4a4a" stroke-width="0.9" />
<line x1="184.05" y1="366.60" x2="184.05" y2="368.80" stroke="#4a4a4a" stroke-width="0.9" />
<line x1="236.17" y1="438.00" x2="236.17" y2="435.80" stroke="#4a4a4a" stroke-width="0.9" />
<line x1="236.17" y1="366.60" x2="236.17" y2="368.80" stroke="#4a4a4a" stroke-width="0.9" />
<line x1="288.28" y1="438.00" x2="288.28" y2="435.80" stroke="#4a4a4a" stroke-width="0.9" />
<line x1="288.28" y1="366.60" x2="288.28" y2="368.80" stroke="#4a4a4a" stroke-width="0.9" />
<line x1="340.40" y1="438.00" x2="340.40" y2="435.80" stroke="#4a4a4a" stroke-width="0.9" />
<line x1="340.40" y1="366.60" x2="340.40" y2="368.80" stroke="#4a4a4a" stroke-width="0.9" />
<line x1="149.85" y1="438.00" x2="149.85" y2="435.80" stroke="#4a4a4a" stroke-width="0.9" />
<line x1="149.85" y1="366.60" x2="149.85" y2="368.80" stroke="#4a4a4a" stroke-width="0.9" />
<line x1="27.70" y1="438.00" x2="29.90" y2="438.00" stroke="#4a4a4a" stroke-width="0.9" />
<line x1="340.40" y1="438.00" x2="338.20" y2="438.00" stroke="#4a4a4a" stroke-width="0.9" />
<line x1="27.70" y1="411.85" x2="29.90" y2="411.85" stroke="#4a4a4a" stroke-width="0.9" />
<line x1="340.40" y1="411.85" x2="338.20" y2="411.85" stroke="#4a4a4a" stroke-width="0.9" />
<line x1="27.70" y1="385.70" x2="29.90" y2="385.70" stroke="#4a4a4a" stroke-width="0.9" />
<line x1="340.40" y1="385.70" x2="338.20" y2="385.70" stroke="#4a4a4a" stroke-width="0.9" />
<text x="25.60" y="440.90" font-size="7.0" text-anchor="end" fill="#1a1a1a" stroke="#1a1a1a" stroke-width="0.3" font-family="Liberation Sans, sans-serif" >0</text>
<text x="25.60" y="414.60" font-size="7.0" text-anchor="end" fill="#1a1a1a" stroke="#1a1a1a" stroke-width="0.3" font-family="Liberation Sans, sans-serif" >100</text>
<text x="25.60" y="388.40" font-size="7.0" text-anchor="end" fill="#1a1a1a" stroke="#1a1a1a" stroke-width="0.3" font-family="Liberation Sans, sans-serif" >200</text>
<text x="27.7" y="448.6" font-size="7.6" text-anchor="middle" fill="#1a1a1a" stroke="#1a1a1a" stroke-width="0.3" font-family="Liberation Sans, sans-serif">0.75<tspan font-style="italic">f</tspan><tspan font-size="6" dx="0.5" dy="2.9">0</tspan></text>
<text x="79.8" y="448.6" font-size="7.6" text-anchor="middle" fill="#1a1a1a" stroke="#1a1a1a" stroke-width="0.3" font-family="Liberation Sans, sans-serif">0.85<tspan font-style="italic">f</tspan><tspan font-size="6" dx="0.5" dy="2.9">0</tspan></text>
<text x="131.9" y="448.6" font-size="7.6" text-anchor="middle" fill="#1a1a1a" stroke="#1a1a1a" stroke-width="0.3" font-family="Liberation Sans, sans-serif">0.96<tspan font-style="italic">f</tspan><tspan font-size="6" dx="0.5" dy="2.9">0</tspan></text>
<text x="184.1" y="448.6" font-size="7.6" text-anchor="middle" fill="#1a1a1a" stroke="#1a1a1a" stroke-width="0.3" font-family="Liberation Sans, sans-serif">1.07<tspan font-style="italic">f</tspan><tspan font-size="6" dx="0.5" dy="2.9">0</tspan></text>
<text x="236.2" y="448.6" font-size="7.6" text-anchor="middle" fill="#1a1a1a" stroke="#1a1a1a" stroke-width="0.3" font-family="Liberation Sans, sans-serif">1.17<tspan font-style="italic">f</tspan><tspan font-size="6" dx="0.5" dy="2.9">0</tspan></text>
<text x="288.3" y="448.6" font-size="7.6" text-anchor="middle" fill="#1a1a1a" stroke="#1a1a1a" stroke-width="0.3" font-family="Liberation Sans, sans-serif">1.28<tspan font-style="italic">f</tspan><tspan font-size="6" dx="0.5" dy="2.9">0</tspan></text>
<text x="340.4" y="448.6" font-size="7.6" text-anchor="middle" fill="#1a1a1a" stroke="#1a1a1a" stroke-width="0.3" font-family="Liberation Sans, sans-serif">1.39<tspan font-style="italic">f</tspan><tspan font-size="6" dx="0.5" dy="2.9">0</tspan></text>
<text x="148.6" y="448.6" font-size="7.6" text-anchor="middle" fill="#1a1a1a" stroke="#1a1a1a" stroke-width="0.3" font-family="Liberation Sans, sans-serif"><tspan font-style="italic">f</tspan><tspan font-size="6" dx="0.5" dy="2.9">0</tspan></text>
<text x="168.40" y="460.60" font-size="7.9" text-anchor="start" fill="#1a1a1a" stroke="#1a1a1a" stroke-width="0.3" font-family="Liberation Sans, sans-serif" textLength="32.2" lengthAdjust="spacingAndGlyphs" >Freq [Hz]</text>
<text transform="translate(10.7,404.0) rotate(-90)" font-size="8.1" text-anchor="middle" fill="#1a1a1a" stroke="#1a1a1a" stroke-width="0.3" font-family="Liberation Sans, sans-serif">τ [Nbr of samples]</text>
<text x="-0.40" y="364.00" font-size="11.3" text-anchor="start" fill="#1a1a1a" stroke="#1a1a1a" stroke-width="0.42" font-family="Liberation Sans, sans-serif" >d)</text>
</g>
</svg></body></html>
